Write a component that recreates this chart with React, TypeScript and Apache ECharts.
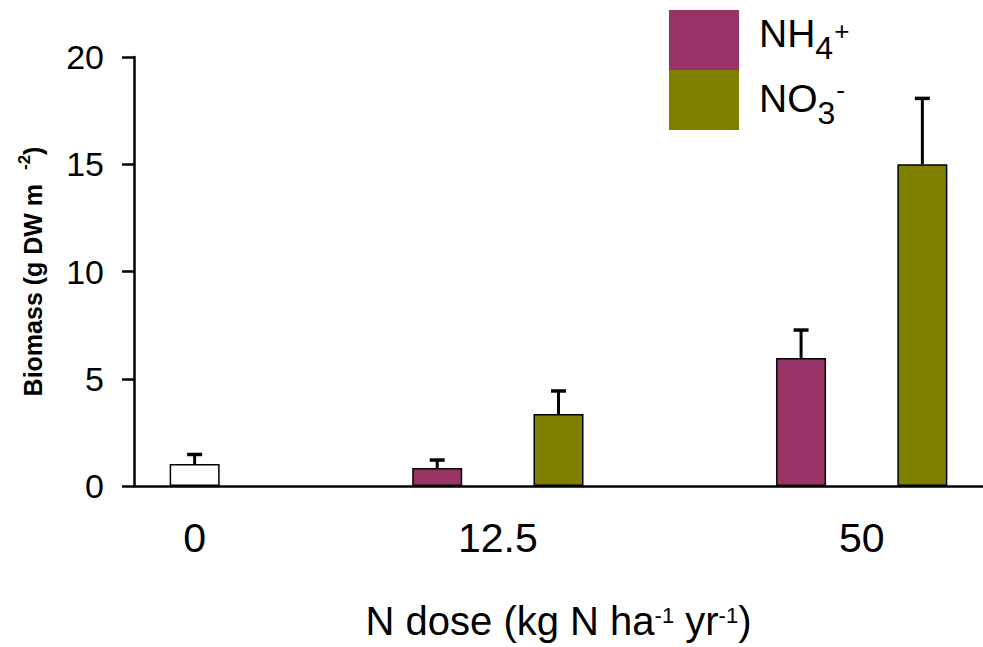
import React, { useEffect, useRef } from "react";
import * as echarts from "echarts";

// ---- data ----
const doseLabels = ["0", "12.5", "50"];
// bar slot indices on the x scale (one slot per bar position)
const doseSlots = [[0], [2, 3], [5, 6]];
const controlSlots = [0];
const controlMean = [1.02];
const controlUpper = [1.47];
const nh4Slots = [2, 5];
const nh4Mean = [0.84, 5.97];
const nh4Upper = [1.21, 7.27];
const no3Slots = [3, 6];
const no3Mean = [3.36, 15.0];
const no3Upper = [4.43, 18.07];
const yTicks = { min: 0, max: 20, interval: 5 };

const NH4 = "NH4+";
const NO3 = "NO3-";
const FONT = "'Liberation Sans', Arial, sans-serif";

export default function App() {
  const ref = useRef<HTMLDivElement>(null);
  useEffect(() => {
    document.body.style.margin = "0";
    if (!ref.current) return;
    const chart = echarts.init(ref.current, undefined, { renderer: "svg" });
    const groupCenters = doseSlots.map((s) => s.reduce((a, b) => a + b, 0) / s.length);
    const pairs = (slots: number[], vals: number[]) => slots.map((s, i) => [s, vals[i]]);
    const errData = [
      ...controlSlots.map((s, i) => [s, controlMean[i], controlUpper[i]]),
      ...nh4Slots.map((s, i) => [s, nh4Mean[i], nh4Upper[i]]),
      ...no3Slots.map((s, i) => [s, no3Mean[i], no3Upper[i]]),
    ];
    const barBase = {
      type: "bar",
      barWidth: 50,
      barGap: "-100%",
      itemStyle: { borderColor: "#000", borderWidth: 1.5 },
      silent: true,
    };
    chart.setOption({
      animation: false,
      textStyle: { fontFamily: FONT, color: "#000" },
      grid: { left: 134, right: 0, top: 57, bottom: 161, outerBoundsMode: "none", containLabel: false },
      legend: {
        data: [NH4, NO3],
        orient: "vertical",
        left: 669,
        top: 10,
        padding: 0,
        itemWidth: 70,
        itemHeight: 60,
        itemGap: 0,
        icon: "rect",
        selectedMode: false,
        itemStyle: { borderWidth: 0 },
        formatter: (name: string) =>
          name === NH4 ? "{m1|NH}{sb1|4}{sp1|+}" : "{m2|NO}{sb2|3}{sp2|-}",
        textStyle: {
          color: "#000",
          fontFamily: FONT,
          rich: {
            m1: { fontSize: 39, lineHeight: 60, verticalAlign: "middle", padding: [0, 0, 13, 15] },
            sb1: { fontSize: 32, lineHeight: 60, verticalAlign: "middle", padding: [16, 0, 0, 0] },
            sp1: { fontSize: 26, lineHeight: 60, verticalAlign: "middle", padding: [0, 0, 19, 1] },
            m2: { fontSize: 39, lineHeight: 60, verticalAlign: "middle", padding: [0, 0, 3, 15] },
            sb2: { fontSize: 32, lineHeight: 60, verticalAlign: "middle", padding: [25, 0, 0, 0] },
            sp2: { fontSize: 26, lineHeight: 60, verticalAlign: "middle", padding: [0, 0, 21, 1] },
          },
        },
      },
      xAxis: {
        type: "value",
        min: -0.5,
        max: 6.5,
        name: "{m|N dose (kg N ha}{s|-1}{m| yr}{s|-1}{m|)}",
        nameLocation: "middle",
        nameGap: 115,
        nameTextStyle: {
          fontFamily: FONT,
          color: "#000",
          rich: {
            m: { fontSize: 40, lineHeight: 40, verticalAlign: "middle" },
            s: { fontSize: 22, lineHeight: 40, verticalAlign: "middle", padding: [0, 0, 11, 0] },
          },
        },
        splitLine: { show: false },
        axisTick: { show: false },
        axisLine: { onZero: false, lineStyle: { color: "#000", width: 2.5 } },
        axisLabel: {
          customValues: groupCenters,
          formatter: (v: number) => {
            const i = groupCenters.findIndex((c) => Math.abs(c - v) < 1e-6);
            return i >= 0 ? doseLabels[i] : "";
          },
          fontSize: 41,
          lineHeight: 41,
          margin: 31,
          color: "#000",
          fontFamily: FONT,
        },
      },
      yAxis: {
        type: "value",
        min: yTicks.min,
        max: yTicks.max,
        interval: yTicks.interval,
        name: "{b|Biomass (g DW m  }{s|-2}{b|)}",
        nameLocation: "middle",
        nameRotate: 90,
        nameGap: 84,
        nameTextStyle: {
          fontFamily: FONT,
          color: "#000",
          rich: {
            b: { fontSize: 25, fontWeight: "bold", lineHeight: 34, verticalAlign: "middle" },
            s: { fontSize: 17, fontWeight: "bold", lineHeight: 34, verticalAlign: "middle", padding: [0, 0, 17, 0] },
          },
        },
        splitLine: { show: false },
        axisLine: { show: true, onZero: false, lineStyle: { color: "#000", width: 2.5 } },
        axisTick: { show: true, inside: false, length: 12, lineStyle: { color: "#000", width: 2.5 } },
        axisLabel: { fontSize: 34, margin: 30, color: "#000", fontFamily: FONT },
      },
      series: [
        { ...barBase, name: "Control", data: pairs(controlSlots, controlMean), itemStyle: { ...barBase.itemStyle, color: "#ffffff" } },
        { ...barBase, name: NH4, data: pairs(nh4Slots, nh4Mean), itemStyle: { ...barBase.itemStyle, color: "#993366" } },
        { ...barBase, name: NO3, data: pairs(no3Slots, no3Mean), itemStyle: { ...barBase.itemStyle, color: "#808000" } },
        {
          type: "custom",
          name: "err",
          silent: true,
          z: 5,
          encode: { x: 0, y: [1, 2] },
          data: errData,
          renderItem: (params: any, api: any) => {
            const x = api.value(0);
            const p0 = api.coord([x, api.value(1)]);
            const p1 = api.coord([x, api.value(2)]);
            const cap = 7.5;
            return {
              type: "group",
              children: [
                { type: "line", shape: { x1: p0[0], y1: p0[1], x2: p1[0], y2: p1[1] }, style: { stroke: "#000", lineWidth: 3 } },
                { type: "line", shape: { x1: p1[0] - cap, y1: p1[1], x2: p1[0] + cap, y2: p1[1] }, style: { stroke: "#000", lineWidth: 3.5 } },
              ],
            };
          },
        },
      ],
    });
    return () => chart.dispose();
  }, []);
  return <div ref={ref} style={{ width: 983, height: 647 }} />;
}
